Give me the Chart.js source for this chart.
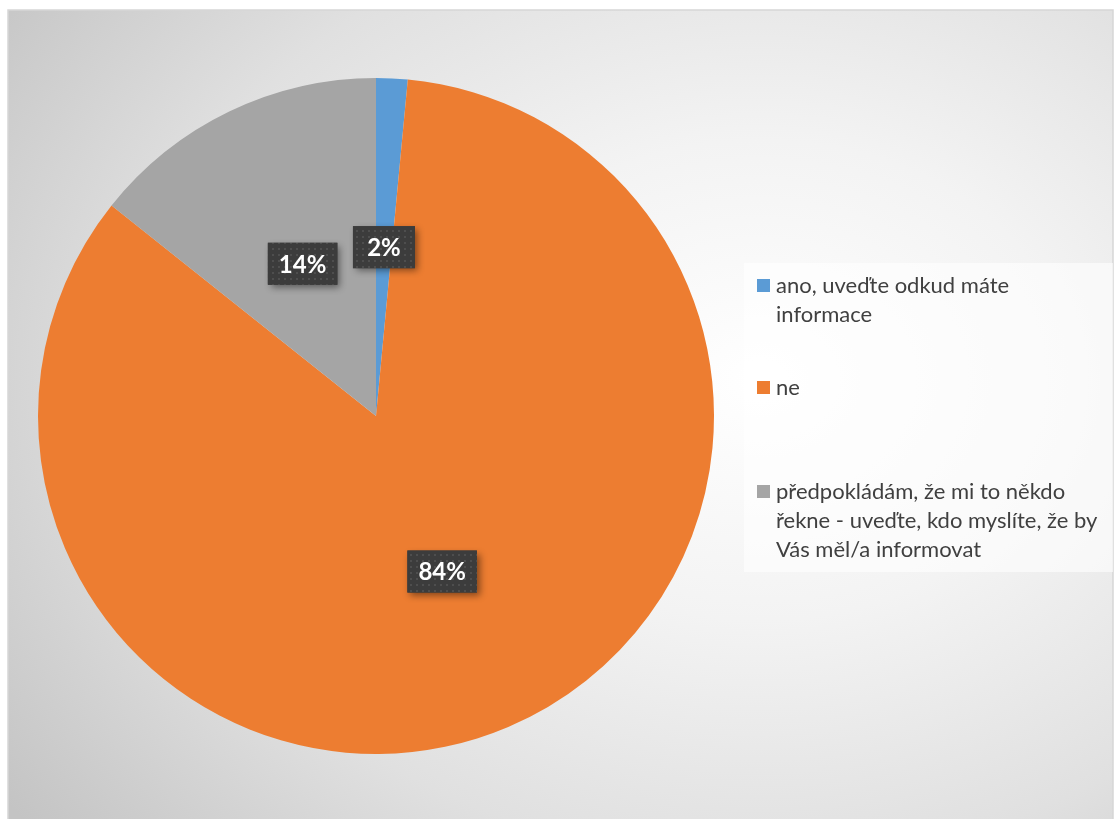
<!DOCTYPE html>
<html><head><meta charset="utf-8">
<script src="https://cdn.jsdelivr.net/npm/chart.js@4"></script>
<style>html,body{margin:0;padding:0;background:#fff;overflow:hidden}#wrap{width:1119px;height:819px;position:relative}</style>
</head><body><div id="wrap"><canvas id="c" width="1119" height="819"></canvas></div>
<script>
// ---- data ----
const categories = [
  ["ano, uveďte odkud máte", "informace"],
  ["ne"],
  ["předpokládám, že mi to někdo", "řekne - uveďte, kdo myslíte, že by", "Vás měl/a informovat"]
];
const shares = [1.5, 84.2, 14.3];
const sliceColors = ['#5B9BD5', '#ED7D31', '#A5A5A5'];

const total = shares.reduce((a, b) => a + b, 0);
const pctLabels = shares.map(v => Math.round(v / total * 100) + '%');

const FONT = 'Lato, "Open Sans", sans-serif';

// dotted dark pattern for data labels
function makePattern(ctx) {
  const pc = document.createElement('canvas');
  pc.width = 6; pc.height = 6;
  const p = pc.getContext('2d');
  p.fillStyle = '#3c3c3c'; p.fillRect(0, 0, 6, 6);
  p.fillStyle = '#4e4e4e'; p.fillRect(2, 2, 2, 2);
  return ctx.createPattern(pc, 'repeat');
}

const bgPlugin = {
  id: 'bg',
  beforeDraw(chart) {
    const ctx = chart.ctx;
    ctx.save();
    ctx.fillStyle = '#ffffff';
    ctx.fillRect(0, 0, chart.width, chart.height);
    const cx = 760, cy = 380, sx = 620, sy = 480;
    ctx.save();
    ctx.beginPath();
    ctx.rect(8, 10, 1105, 815);
    ctx.clip();
    ctx.translate(cx, cy);
    ctx.scale(sx, sy);
    const g = ctx.createRadialGradient(0, 0, 0, 0, 0, 1.5);
    g.addColorStop(0, '#ffffff');
    g.addColorStop(0.5 / 1.5, '#f3f3f3');
    g.addColorStop(1.0 / 1.5, '#e0e0e0');
    g.addColorStop(1, '#c4c4c4');
    ctx.fillStyle = g;
    ctx.fillRect(-2, -2, 4, 4);
    ctx.restore();
    ctx.strokeStyle = '#d6d6d6';
    ctx.lineWidth = 1.5;
    ctx.strokeRect(8, 10, 1105, 815);
    ctx.restore();
  }
};

const labelPlugin = {
  id: 'pctLabels',
  afterDatasetsDraw(chart) {
    const ctx = chart.ctx;
    const meta = chart.getDatasetMeta(0);
    const pat = makePattern(ctx);
    ctx.save();
    ctx.font = 'bold 24px ' + FONT;
    meta.data.forEach((arc, i) => {
      const pos = arc.tooltipPosition();
      const txt = pctLabels[i];
      const tw = ctx.measureText(txt).width;
      const w = Math.max(tw + 22, 62), h = 42;
      const x = pos.x - w / 2, y = pos.y - h / 2;
      ctx.save();
      ctx.shadowColor = 'rgba(0,0,0,0.45)';
      ctx.shadowBlur = 7;
      ctx.shadowOffsetX = 3;
      ctx.shadowOffsetY = 3;
      ctx.fillStyle = '#3c3c3c';
      ctx.fillRect(x, y, w, h);
      ctx.restore();
      ctx.fillStyle = pat;
      ctx.fillRect(x, y, w, h);
      ctx.fillStyle = '#ffffff';
      ctx.textAlign = 'center';
      ctx.textBaseline = 'middle';
      ctx.fillText(txt, pos.x, pos.y + 1);
    });
    ctx.restore();
  }
};

const legendPlugin = {
  id: 'customLegend',
  afterDraw(chart) {
    const ctx = chart.ctx;
    ctx.save();
    ctx.fillStyle = 'rgba(255,255,255,0.6)';
    ctx.fillRect(744, 263, 369, 309);
    ctx.font = '22px ' + FONT;
    ctx.textBaseline = 'alphabetic';
    ctx.textAlign = 'left';
    const startY = [293, 395, 499];
    categories.forEach((lines, i) => {
      const by = startY[i];
      ctx.fillStyle = sliceColors[i];
      ctx.fillRect(757, by - 14, 13, 13);
      ctx.fillStyle = '#404040';
      lines.forEach((ln, j) => ctx.fillText(ln, 776, by + j * 29));
    });
    ctx.restore();
  }
};

new Chart(document.getElementById('c'), {
  type: 'pie',
  data: {
    labels: categories,
    datasets: [{
      data: shares,
      backgroundColor: sliceColors,
      borderWidth: 0
    }]
  },
  options: {
    responsive: false,
    animation: false,
    devicePixelRatio: 1,
    layout: { padding: { left: 38, right: 405, top: 78, bottom: 65 } },
    plugins: {
      legend: { display: false },
      tooltip: { enabled: false },
      title: { display: false }
    }
  },
  plugins: [bgPlugin, labelPlugin, legendPlugin]
});
</script>
</body></html>
